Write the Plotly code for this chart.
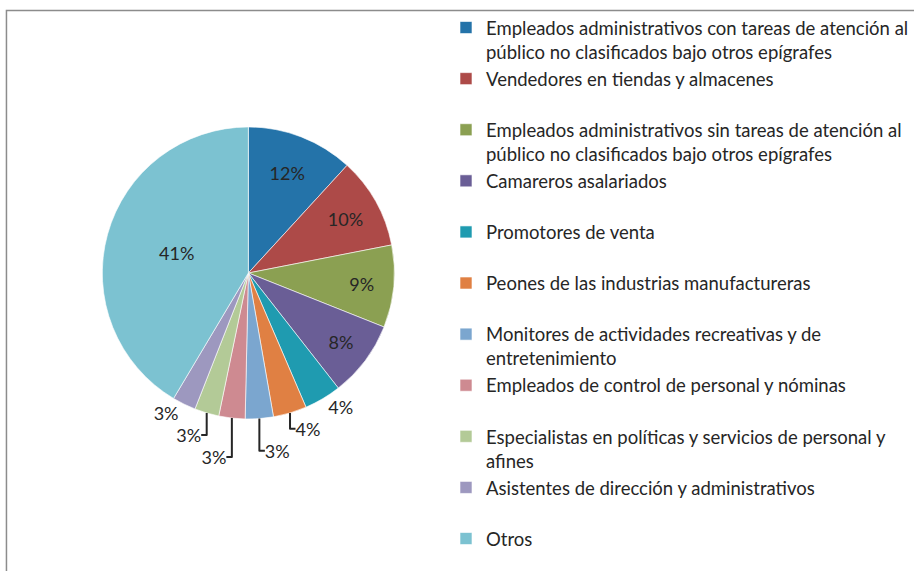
import plotly.graph_objects as go

categories = [
    "Empleados administrativos con tareas de atención al<br>público no clasificados bajo otros epígrafes",
    "Vendedores en tiendas y almacenes<br> ",
    "Empleados administrativos sin tareas de atención al<br>público no clasificados bajo otros epígrafes",
    "Camareros asalariados<br> ",
    "Promotores de venta<br> ",
    "Peones de las industrias manufactureras<br> ",
    "Monitores de actividades recreativas y de<br>entretenimiento",
    "Empleados de control de personal y nóminas<br> ",
    "Especialistas en políticas y servicios de personal y<br>afines",
    "Asistentes de dirección y administrativos<br> ",
    "Otros",
]
values = [11.8, 10.1, 9.1, 8.4, 4.1, 3.7, 3.1, 2.9, 2.7, 2.6, 41.4]
colors = ["#2473A9", "#AD4A48", "#8BA052", "#6A5E96", "#1F9BB0", "#E08043",
          "#7BA6CF", "#CE8A91", "#B3CA97", "#9D98BF", "#7CC2D1"]
text_positions = ["inside"] * 4 + ["outside"] * 6 + ["inside"]

W, H = 914, 571
cx, cy, r = 250, 273, 147

fig = go.Figure(go.Pie(
    labels=categories,
    values=values,
    sort=False,
    direction="clockwise",
    rotation=0,
    marker=dict(colors=colors, line=dict(color="white", width=0.6)),
    texttemplate="%{percent:.0%}",
    textposition=text_positions,
    insidetextorientation="horizontal",
    textfont=dict(family="Lato", size=18, color="#262626"),
    domain=dict(x=[(cx - r) / W, (cx + r) / W], y=[1 - (cy + r) / H, 1 - (cy - r) / H]),
    hoverinfo="label+percent",
))

fig.add_shape(type="rect", xref="paper", yref="paper",
              x0=6.5 / W, x1=1.02, y0=-0.02, y1=1 - 10.5 / H,
              line=dict(color="#8C8C8C", width=1.5), fillcolor="rgba(0,0,0,0)", layer="below")

fig.update_layout(
    width=W, height=H,
    margin=dict(l=0, r=0, t=0, b=0),
    paper_bgcolor="white",
    plot_bgcolor="white",
    showlegend=True,
    legend=dict(
        x=(489 - 40) / W, xanchor="left",
        y=1 - 9 / H, yanchor="top",
        valign="top",
        font=dict(family="Lato", size=18.5, color="#262626"),
        tracegroupgap=0,
        itemclick=False,
        bgcolor="rgba(0,0,0,0)",
    ),
)

fig.write_html("out.html", config={"displayModeBar": False},
               post_script="document.body.style.margin='0';")
